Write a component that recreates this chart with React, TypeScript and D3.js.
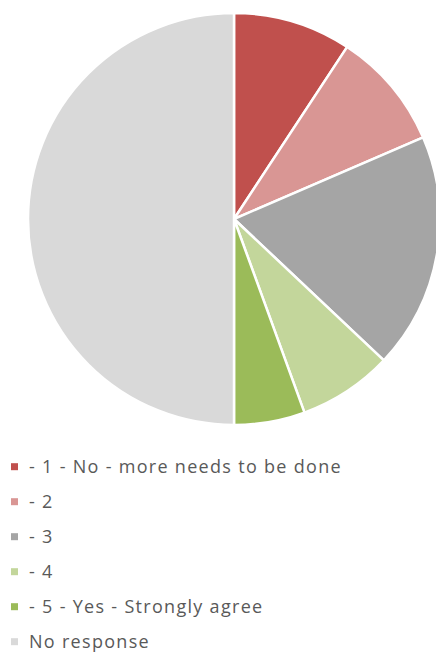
import React, { useEffect, useRef } from "react";
import * as d3 from "d3";

const categories = [
  "- 1 - No - more needs to be done",
  "- 2",
  "- 3",
  "- 4",
  "- 5 - Yes - Strongly agree",
  "No response",
];
const values = [5, 5, 10, 4, 3, 27];
const colors = ["#C0504D", "#D99694", "#A5A5A5", "#C3D69B", "#9BBB59", "#D9D9D9"];

export default function App() {
  const ref = useRef<SVGSVGElement>(null);
  useEffect(() => {
    const svg = d3.select(ref.current);
    svg.selectAll("*").remove();
    const cx = 234, cy = 219, r = 206;
    const data = categories.map((c, i) => ({ c, v: values[i], col: colors[i] }));
    const pie = d3.pie<any>().sort(null).value((d) => d.v);
    const arc = d3.arc<any>().innerRadius(0).outerRadius(r);
    const g = svg.append("g").attr("transform", `translate(${cx},${cy})`);
    g.selectAll("path")
      .data(pie(data))
      .join("path")
      .attr("d", arc)
      .attr("fill", (d) => d.data.col)
      .attr("stroke", "#fff")
      .attr("stroke-width", 2.5)
      .attr("stroke-linejoin", "round");

    const y = d3.scaleLinear().domain([0, 1]).range([466.7, 501.7]);
    const lg = svg.append("g");
    data.forEach((d, i) => {
      const yy = y(i);
      lg.append("rect")
        .attr("x", 11)
        .attr("y", yy - 3.5)
        .attr("width", 7)
        .attr("height", 7)
        .attr("fill", d.col);
      lg.append("text")
        .attr("x", 29)
        .attr("y", yy)
        .attr("dy", "0.35em")
        .attr("font-family", "'Open Sans', sans-serif")
        .attr("font-size", 18)
        .attr("letter-spacing", 1.3)
        .attr("fill", "#595959")
        .text(d.c);
    });
  }, []);
  return (
    <svg
      ref={ref}
      width={436}
      height={653}
      style={{ position: "absolute", left: 0, top: 0, display: "block" }}
    />
  );
}
